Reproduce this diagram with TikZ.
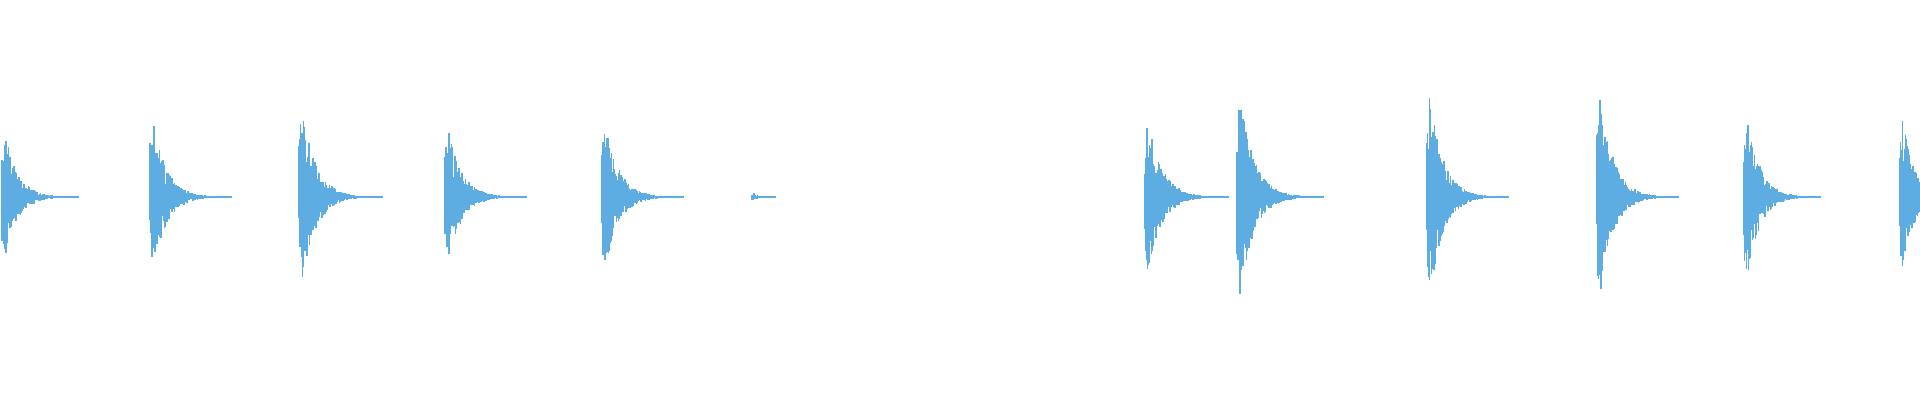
\documentclass[tikz,border=0pt]{standalone}
\definecolor{wave}{RGB}{93,173,226}
\tikzset{wavebar/.style={draw=wave,line width=0.6pt}}
\begin{document}
\begin{tikzpicture}[x=0.02cm,y=0.02cm]
\useasboundingbox (0,0) rectangle (1920,400);
\clip (0,0) rectangle (1920,400);
\pgfmathsetseed{11}
\foreach \bx/\up/\dn/\len [count=\k] in {0/86/82/32,148/98/93/34,297/112/110/35,443/90/85/34,600/98/92/34,750/7/6/10,1143/98/92/35,1235/125/124/36,1425/128/122/34,1595/130/124/34,1742/110/106/32,1898/98/93/30}{
  \pgfmathsetmacro{\stop}{2.4*\len}
  \foreach \i in {0,0.5,...,\stop}{
    \pgfmathsetmacro{\rise}{min(1,0.55+\i/6)}
    \pgfmathsetmacro{\env}{\rise*exp(-\i/(\len*0.4))}
    \pgfmathsetmacro{\a}{max(0.6,\up*\env*(0.35+0.65*rnd))}
    \pgfmathsetmacro{\b}{max(0.6,\dn*\env*(0.35+0.65*rnd))}
    \draw[wavebar] (\bx+2+\i,203+\a) -- (\bx+2+\i,203-\b);
  }
}
\end{tikzpicture}
\end{document}
